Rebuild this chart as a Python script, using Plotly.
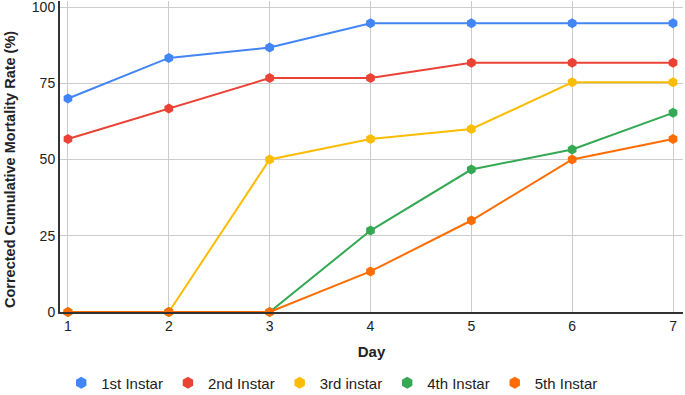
import plotly.graph_objects as go

days = [1, 2, 3, 4, 5, 6, 7]
series_names = ["1st Instar", "2nd Instar", "3rd instar", "4th Instar", "5th Instar"]
instar1 = [70, 83.3, 86.7, 94.7, 94.7, 94.7, 94.7]
instar2 = [56.7, 66.7, 76.7, 76.7, 81.7, 81.7, 81.7]
instar3 = [0, 0, 50, 56.7, 60, 75.3, 75.3]
instar4 = [0, 0, 0, 26.7, 46.7, 53.3, 65.3]
instar5 = [0, 0, 0, 13.3, 30, 50, 56.7]
y_ticks = [0, 25, 50, 75, 100]
colors = ["#4285F4", "#EA4335", "#FBBC04", "#34A853", "#FF6D01"]

fig = go.Figure()
for name, vals, c in zip(series_names, [instar1, instar2, instar3, instar4, instar5], colors):
    fig.add_trace(go.Scatter(
        x=days, y=vals, name=name, mode="lines+markers",
        line=dict(color=c, width=2),
        marker=dict(symbol="hexagon", size=10, color=c),
        cliponaxis=False, showlegend=False,
    ))
# legend entries (marker only, as in the reference)
for name, c in zip(series_names, colors):
    fig.add_trace(go.Scatter(
        x=[None], y=[None], name=name, mode="markers",
        marker=dict(symbol="hexagon", size=12, color=c),
        showlegend=True,
    ))

font_family = "Liberation Sans, Arial, sans-serif"
fig.update_layout(
    width=685, height=395,
    margin=dict(l=60, r=2, t=1, b=83, autoexpand=False),
    plot_bgcolor="white", paper_bgcolor="white",
    font=dict(family=font_family, size=14, color="#222"),
    showlegend=True,
    legend=dict(orientation="h", x=0.485, xanchor="center", xref="container",
                y=(395 - 383) / 395, yanchor="middle", yref="container",
                font=dict(size=15, color="#222"), itemwidth=30),
    xaxis=dict(
        range=[0.921, 7.099], tickvals=days, ticktext=[str(d) for d in days],
        showgrid=True, gridcolor="#cccccc", gridwidth=1,
        showline=True, linecolor="#333333", linewidth=2,
        zeroline=False, ticks="", automargin=False,
        title=dict(text="<b>Day</b>", font=dict(size=15, color="#222"), standoff=14),
    ),
    yaxis=dict(
        range=[0, 101.97], tickvals=y_ticks, ticktext=[str(t) for t in y_ticks],
        showgrid=True, gridcolor="#cccccc", gridwidth=1,
        showline=True, linecolor="#333333", linewidth=2,
        zeroline=False, ticks="", automargin=False, ticklabeloverflow="allow",
    ),
    annotations=[dict(
        text="<b>Corrected Cumulative Mortality Rate (%)</b>",
        textangle=-90, xref="paper", yref="paper",
        x=(10 - 60) / 623, y=(312 - 170) / 311,
        xanchor="center", yanchor="middle", showarrow=False,
        font=dict(size=14.5, color="#222"),
    )],
)

fig.write_html("out.html", config={"displayModeBar": False},
               post_script="document.body.style.margin='0';document.body.style.overflow='hidden';")
